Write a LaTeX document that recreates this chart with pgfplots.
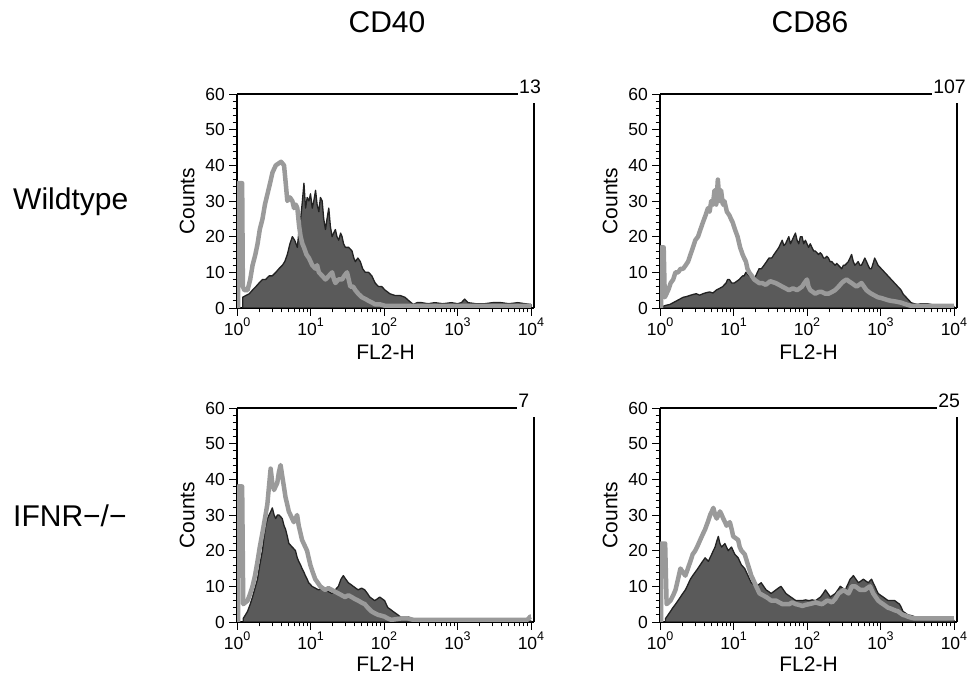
\documentclass[border=0pt]{standalone}
\usepackage{fontspec}
\setmainfont{Liberation Sans}
\usepackage{pgfplots}
\usepackage{pgfplotstable}
\pgfplotsset{compat=1.18}
\definecolor{darkfill}{HTML}{5A5A5A}
\definecolor{darkedge}{HTML}{222222}
\definecolor{ctrlgray}{HTML}{9A9A9A}
\newcommand{\tlfont}{\fontsize{17.5}{19}\selectfont}
\newcommand{\dec}[1]{{\tlfont 10\raisebox{0.5em}{\fontsize{12.5}{12.5}\selectfont #1}}}

% ---------- Wildtype CD40 ----------
\pgfplotstableread[row sep=\\]{lx y\\
0.015 0\\ 0.015 35\\ 0.07 35\\ 0.08 6\\ 0.099 5\\ 0.144 5\\ 0.18 8\\ 0.212 12\\ 0.25 15\\ 0.280 18\\ 0.31 22\\ 0.347 25\\ 0.38 29\\ 0.415 32\\ 0.45 35\\ 0.483 38\\ 0.528 40\\ 0.60 41\\ 0.640 40\\ 0.663 35\\ 0.685 30\\ 0.72 31\\ 0.753 30\\ 0.776 28\\ 0.80 29\\ 0.821 28\\ 0.845 23\\ 0.866 20\\ 0.89 18\\ 0.911 17\\ 0.945 15\\ 0.979 14\\ 1.024 12\\ 1.069 11\\ 1.09 12\\ 1.114 10\\ 1.16 9\\ 1.204 8\\ 1.25 9\\ 1.294 10\\ 1.32 8\\ 1.339 7\\ 1.38 8\\ 1.430 8\\ 1.46 9\\ 1.497 10\\ 1.52 8\\ 1.542 6\\ 1.58 6\\ 1.610 5\\ 1.65 4\\ 1.700 3\\ 1.75 2.5\\ 1.790 2\\ 1.84 1.5\\ 1.880 1\\ 1.95 1\\ 2.016 0.6\\ 2.5 0.6\\ 3.0 0.6\\ 3.5 0.6\\ 4.0 0.6\\
}\wtCDfortyC
\pgfplotstableread[row sep=\\]{lx y\\
0.077 3\\ 0.12 3.5\\ 0.167 4\\ 0.21 5\\ 0.257 6\\ 0.30 7\\ 0.347 8\\ 0.39 8\\ 0.437 9\\ 0.48 9\\ 0.528 10\\ 0.57 11\\ 0.618 12\\ 0.65 13\\ 0.685 15\\ 0.72 18\\ 0.753 20\\ 0.785 19\\ 0.821 17\\ 0.845 22\\ 0.866 25\\ 0.89 30\\ 0.911 35\\ 0.933 28\\ 0.955 31\\ 0.979 30\\ 1.00 32\\ 1.024 28\\ 1.045 30\\ 1.069 33\\ 1.09 29\\ 1.114 27\\ 1.135 31\\ 1.159 30\\ 1.18 25\\ 1.204 22\\ 1.225 25\\ 1.249 28\\ 1.27 23\\ 1.294 20\\ 1.315 21\\ 1.339 22\\ 1.36 20\\ 1.384 19\\ 1.41 21\\ 1.430 20\\ 1.45 18\\ 1.475 17\\ 1.52 17\\ 1.565 16\\ 1.59 14\\ 1.610 13\\ 1.645 14\\ 1.678 13\\ 1.71 11\\ 1.745 10\\ 1.79 10\\ 1.835 9\\ 1.88 7\\ 1.926 6\\ 1.97 6\\ 2.016 5\\ 2.08 4\\ 2.151 3.5\\ 2.22 3.5\\ 2.286 3\\ 2.34 2\\ 2.399 1\\ 2.45 1.5\\ 2.512 1.5\\ 2.60 1.2\\ 2.692 1.5\\ 2.80 1.2\\ 2.918 1.5\\ 3.00 1.2\\ 3.053 1.5\\ 3.098 2.5\\ 3.143 1.5\\ 3.25 1.2\\ 3.369 1.2\\ 3.48 1.5\\ 3.594 1.5\\ 3.70 1.2\\ 3.820 1.5\\ 3.92 1.2\\ 4.0 1\\
}\wtCDfortyS

% ---------- Wildtype CD86 ----------
\pgfplotstableread[row sep=\\]{lx y\\
0.015 0\\ 0.015 17\\ 0.05 17\\ 0.065 3\\ 0.112 5\\ 0.145 7\\ 0.180 8\\ 0.21 10\\ 0.247 10\\ 0.28 11\\ 0.315 11\\ 0.35 12\\ 0.382 13\\ 0.415 15\\ 0.449 17\\ 0.48 19\\ 0.517 20\\ 0.55 22\\ 0.584 24\\ 0.62 26\\ 0.652 28\\ 0.675 27\\ 0.697 30\\ 0.72 29\\ 0.742 33\\ 0.765 29\\ 0.787 36\\ 0.81 30\\ 0.831 33\\ 0.855 29\\ 0.876 30\\ 0.91 27\\ 0.944 26\\ 0.965 25\\ 0.989 24\\ 1.02 22\\ 1.056 20\\ 1.09 17\\ 1.124 15\\ 1.145 14\\ 1.169 13\\ 1.19 11\\ 1.213 10\\ 1.25 9\\ 1.281 8\\ 1.315 7.5\\ 1.348 7\\ 1.39 7\\ 1.438 6.5\\ 1.50 7.5\\ 1.573 7\\ 1.62 6.5\\ 1.663 6\\ 1.71 5.5\\ 1.753 5\\ 1.81 5.5\\ 1.865 5\\ 1.90 5.5\\ 1.933 6\\ 1.965 7\\ 2.000 8\\ 2.02 6\\ 2.045 5\\ 2.08 4.5\\ 2.112 4\\ 2.16 4.5\\ 2.202 4.5\\ 2.25 4\\ 2.292 4\\ 2.34 4.5\\ 2.382 5\\ 2.43 6\\ 2.472 7\\ 2.50 7.5\\ 2.539 8\\ 2.57 7.5\\ 2.607 7\\ 2.64 6.5\\ 2.674 6\\ 2.71 6.5\\ 2.742 7\\ 2.775 6\\ 2.809 5\\ 2.84 4.5\\ 2.876 4\\ 2.92 3.5\\ 2.966 3\\ 3.01 2.8\\ 3.056 2.5\\ 3.10 2.2\\ 3.146 2\\ 3.21 1.8\\ 3.281 1.5\\ 3.35 1\\ 3.416 0.6\\ 3.7 0.6\\ 4.0 0.6\\
}\wtCDeightysixC
\pgfplotstableread[row sep=\\]{lx y\\
0.045 0.5\\ 0.09 0.8\\ 0.135 1\\ 0.18 1.5\\ 0.225 2\\ 0.27 2.5\\ 0.315 3\\ 0.36 3.2\\ 0.404 3.5\\ 0.45 3.8\\ 0.494 4\\ 0.54 3.6\\ 0.584 4\\ 0.63 4.3\\ 0.674 4.5\\ 0.72 4.2\\ 0.764 5\\ 0.81 5.5\\ 0.854 6\\ 0.875 6.5\\ 0.899 7\\ 0.92 8\\ 0.944 8\\ 0.975 7\\ 1.011 7\\ 1.045 7.5\\ 1.079 8\\ 1.10 8.5\\ 1.124 9\\ 1.145 9\\ 1.169 10\\ 1.19 9.5\\ 1.213 9\\ 1.235 9.5\\ 1.258 9\\ 1.28 8.5\\ 1.303 9\\ 1.325 10\\ 1.348 11\\ 1.38 11\\ 1.416 12\\ 1.45 13\\ 1.483 14\\ 1.52 14\\ 1.551 15\\ 1.585 16\\ 1.618 17\\ 1.64 18\\ 1.663 19\\ 1.685 17.5\\ 1.708 18\\ 1.73 19\\ 1.753 20\\ 1.775 18\\ 1.798 19\\ 1.82 20\\ 1.843 21\\ 1.865 19\\ 1.888 18\\ 1.91 20\\ 1.933 20\\ 1.955 18\\ 1.978 19\\ 2.00 18\\ 2.022 17\\ 2.045 18\\ 2.067 17\\ 2.09 16\\ 2.112 16\\ 2.135 15.5\\ 2.157 15\\ 2.18 15.5\\ 2.202 15\\ 2.225 14\\ 2.247 14\\ 2.27 14.5\\ 2.292 14\\ 2.315 13\\ 2.337 13\\ 2.36 12.5\\ 2.382 12\\ 2.405 12.5\\ 2.427 12\\ 2.45 11.5\\ 2.472 11\\ 2.495 12\\ 2.517 12\\ 2.54 12.5\\ 2.562 13\\ 2.585 14\\ 2.607 15\\ 2.63 13\\ 2.652 12\\ 2.675 12.5\\ 2.697 13\\ 2.72 12\\ 2.742 12\\ 2.765 13\\ 2.787 14\\ 2.81 13\\ 2.831 12\\ 2.855 11\\ 2.876 11\\ 2.90 12.5\\ 2.921 14\\ 2.945 13\\ 2.966 12\\ 2.99 11.5\\ 3.011 11\\ 3.035 10.5\\ 3.056 10\\ 3.08 9.5\\ 3.101 9\\ 3.125 8.5\\ 3.146 8\\ 3.17 7.5\\ 3.191 7\\ 3.215 6.5\\ 3.236 6\\ 3.26 5.5\\ 3.281 5\\ 3.305 4\\ 3.326 3.5\\ 3.35 3\\ 3.371 2.5\\ 3.395 2\\ 3.416 1.5\\ 3.46 1.2\\ 3.506 1\\ 3.55 1.2\\ 3.596 1.2\\ 3.64 1.2\\ 3.685 1\\ 3.73 0.8\\ 3.775 0.5\\ 3.9 0.5\\ 4.0 0.5\\
}\wtCDeightysixS

% ---------- IFNR CD40 ----------
\pgfplotstableread[row sep=\\]{lx y\\
0.015 0\\ 0.015 38\\ 0.07 38\\ 0.085 5\\ 0.144 6\\ 0.18 8\\ 0.211 10\\ 0.245 13\\ 0.279 17\\ 0.31 21\\ 0.346 25\\ 0.38 29\\ 0.413 33\\ 0.435 38\\ 0.458 43\\ 0.48 39\\ 0.503 37\\ 0.525 38\\ 0.548 39\\ 0.57 42\\ 0.593 44\\ 0.615 41\\ 0.638 38\\ 0.66 35\\ 0.683 33\\ 0.705 31\\ 0.728 30\\ 0.75 29\\ 0.773 28\\ 0.795 29\\ 0.818 30\\ 0.84 27\\ 0.863 25\\ 0.885 23\\ 0.908 22\\ 0.93 21\\ 0.953 20\\ 0.975 18\\ 0.998 16\\ 1.03 14\\ 1.065 12\\ 1.10 11\\ 1.133 10\\ 1.165 9.5\\ 1.200 9\\ 1.245 9.5\\ 1.290 9\\ 1.335 8.5\\ 1.380 8\\ 1.425 7.5\\ 1.470 7\\ 1.515 7.5\\ 1.560 7\\ 1.60 6.5\\ 1.649 6\\ 1.69 5.5\\ 1.739 5\\ 1.78 4\\ 1.829 3\\ 1.87 2.5\\ 1.919 2\\ 1.96 1.8\\ 2.009 1.5\\ 2.05 1\\ 2.099 0.6\\ 2.17 0.8\\ 2.234 1\\ 2.324 1\\ 2.40 0.6\\ 2.683 0.6\\ 3.0 0.6\\ 3.5 0.6\\ 3.95 0.6\\ 3.99 1.5\\ 4.0 1.5\\
}\koCDfortyC
\pgfplotstableread[row sep=\\]{lx y\\
0.085 1\\ 0.115 2\\ 0.144 3\\ 0.18 5\\ 0.211 7\\ 0.245 9.5\\ 0.279 12\\ 0.31 16\\ 0.346 20\\ 0.37 24\\ 0.391 27\\ 0.415 29\\ 0.436 30\\ 0.46 31\\ 0.481 32\\ 0.505 30\\ 0.526 29\\ 0.55 30\\ 0.571 30\\ 0.595 29.5\\ 0.616 29\\ 0.64 27\\ 0.661 26\\ 0.685 24\\ 0.706 22\\ 0.73 21.5\\ 0.751 21\\ 0.775 20.5\\ 0.796 20\\ 0.82 18\\ 0.840 17\\ 0.865 16\\ 0.885 15\\ 0.91 14\\ 0.930 13\\ 0.955 12\\ 0.975 11\\ 1.00 10.5\\ 1.020 10\\ 1.065 9.5\\ 1.110 9\\ 1.155 9.5\\ 1.200 9\\ 1.245 8.5\\ 1.290 8\\ 1.335 9\\ 1.380 10\\ 1.415 12\\ 1.447 13\\ 1.48 12\\ 1.515 11\\ 1.55 10.5\\ 1.582 10\\ 1.615 9.5\\ 1.649 9\\ 1.695 9.5\\ 1.739 9\\ 1.775 8\\ 1.807 7\\ 1.84 6.5\\ 1.874 6\\ 1.91 6.5\\ 1.942 7\\ 1.975 6.5\\ 2.009 6\\ 2.03 5\\ 2.054 4\\ 2.09 3.5\\ 2.121 3\\ 2.155 2.5\\ 2.189 2\\ 2.22 1.5\\ 2.256 1\\ 2.29 1.2\\ 2.324 1.5\\ 2.37 1\\ 2.413 0.5\\ 2.8 0.5\\ 3.2 0.5\\ 3.6 0.5\\ 4.0 0.3\\
}\koCDfortyS

% ---------- IFNR CD86 ----------
\pgfplotstableread[row sep=\\]{lx y\\
0.015 0\\ 0.015 22\\ 0.07 22\\ 0.09 5\\ 0.143 6\\ 0.18 7.5\\ 0.211 9\\ 0.245 12\\ 0.278 15\\ 0.31 14\\ 0.345 13\\ 0.38 15\\ 0.413 17\\ 0.445 19\\ 0.480 20\\ 0.515 21.5\\ 0.547 23\\ 0.58 24.5\\ 0.614 26\\ 0.65 28\\ 0.682 30\\ 0.705 31\\ 0.726 32\\ 0.75 30\\ 0.771 29\\ 0.795 30\\ 0.816 31\\ 0.84 30\\ 0.861 29\\ 0.885 28\\ 0.906 27\\ 0.93 27.5\\ 0.951 28\\ 0.975 26\\ 0.996 24\\ 1.03 23.5\\ 1.063 23\\ 1.085 21\\ 1.108 20\\ 1.13 19.5\\ 1.152 19\\ 1.175 17.5\\ 1.197 16\\ 1.22 14.5\\ 1.242 13\\ 1.265 12\\ 1.287 11\\ 1.32 9.5\\ 1.354 8\\ 1.40 7.5\\ 1.444 7\\ 1.48 6.5\\ 1.511 6\\ 1.545 6\\ 1.578 6\\ 1.62 5.5\\ 1.668 5\\ 1.71 5\\ 1.758 5\\ 1.80 5.5\\ 1.848 5\\ 1.89 4.8\\ 1.937 4.5\\ 1.98 4.8\\ 2.027 5\\ 2.07 5.2\\ 2.117 5.5\\ 2.16 5.2\\ 2.206 5\\ 2.24 5.5\\ 2.274 6\\ 2.31 5.8\\ 2.341 5.5\\ 2.385 6.5\\ 2.430 8\\ 2.465 8.5\\ 2.498 9\\ 2.53 8.5\\ 2.565 8\\ 2.59 9\\ 2.610 10\\ 2.632 10\\ 2.655 10\\ 2.69 9.5\\ 2.722 9\\ 2.755 9\\ 2.789 9\\ 2.82 9.5\\ 2.857 10\\ 2.88 9\\ 2.901 8\\ 2.935 7\\ 2.969 6\\ 3.00 5.5\\ 3.036 5\\ 3.07 4.5\\ 3.103 4\\ 3.135 3.8\\ 3.170 3.5\\ 3.205 3.2\\ 3.238 3\\ 3.27 2.5\\ 3.305 2\\ 3.34 1.8\\ 3.372 1.5\\ 3.42 1.2\\ 3.462 1\\ 3.7 1\\ 4.0 1\\
}\koCDeightysixC
\pgfplotstableread[row sep=\\]{lx y\\
0.076 1\\ 0.11 2\\ 0.143 3\\ 0.175 4\\ 0.211 5\\ 0.245 6\\ 0.278 7\\ 0.31 8\\ 0.345 9\\ 0.38 10.5\\ 0.413 12\\ 0.445 13\\ 0.480 14\\ 0.515 15\\ 0.547 16\\ 0.58 17\\ 0.614 18\\ 0.635 17.5\\ 0.659 17\\ 0.68 18\\ 0.704 19\\ 0.725 20\\ 0.749 21\\ 0.77 22.5\\ 0.794 24\\ 0.815 22\\ 0.839 21\\ 0.86 21.5\\ 0.883 22\\ 0.905 21\\ 0.928 20\\ 0.95 20.5\\ 0.973 21\\ 0.995 20\\ 1.018 19\\ 1.04 18.5\\ 1.063 18\\ 1.085 17\\ 1.108 16\\ 1.13 15.5\\ 1.152 15\\ 1.175 14\\ 1.197 13\\ 1.22 12\\ 1.242 11\\ 1.275 10.5\\ 1.309 10\\ 1.345 10.5\\ 1.377 11\\ 1.41 10\\ 1.444 9\\ 1.48 8.5\\ 1.511 8\\ 1.545 8.5\\ 1.578 9\\ 1.61 9.5\\ 1.646 10\\ 1.68 9\\ 1.713 8\\ 1.745 7.5\\ 1.780 7\\ 1.815 6.5\\ 1.848 6\\ 1.89 6\\ 1.937 6\\ 1.98 6.2\\ 2.027 6\\ 2.07 6.2\\ 2.117 6\\ 2.15 6.5\\ 2.184 7\\ 2.22 8\\ 2.251 9\\ 2.285 8\\ 2.318 7\\ 2.35 7.5\\ 2.386 8\\ 2.42 9\\ 2.453 10\\ 2.485 9.5\\ 2.520 9\\ 2.555 10.5\\ 2.587 12\\ 2.61 12.5\\ 2.632 13\\ 2.665 12\\ 2.700 11\\ 2.735 11.5\\ 2.767 12\\ 2.80 11.5\\ 2.834 11\\ 2.855 11.5\\ 2.879 12\\ 2.90 11\\ 2.924 10\\ 2.945 9\\ 2.969 8\\ 3.00 7.5\\ 3.036 7\\ 3.07 6.5\\ 3.103 6\\ 3.15 6\\ 3.193 6\\ 3.225 5.5\\ 3.260 5\\ 3.285 4\\ 3.305 3\\ 3.34 2.5\\ 3.372 2\\ 3.42 1.8\\ 3.462 1.5\\ 3.51 1.2\\ 3.552 1\\ 3.64 1.2\\ 3.731 1.5\\ 3.78 1.2\\ 3.821 1\\ 3.9 0.7\\ 4.0 0.5\\
}\koCDeightysixS

\pgfplotsset{
  darkhist/.style={fill=darkfill, draw=darkedge, line width=1.3pt, line join=round},
  ctrlline/.style={draw=ctrlgray, line width=4.5pt, line join=round},
}
\newcommand{\framedeco}[2]{%
  \draw[line width=1.1pt] (rel axis cs:0,1) -- (rel axis cs:#1,1);
  \draw[line width=1.1pt] (rel axis cs:1,0) -- (rel axis cs:1,0.958);
  \node[anchor=base west, inner sep=0pt, xshift=1pt, font=\fontsize{19.5}{20}\selectfont] at (rel axis cs:#1,1) {#2};
}

\begin{document}
\begin{tikzpicture}
\path[use as bounding box] (0pt,0pt) rectangle (969pt,676pt);

\node[anchor=base, font=\fontsize{30}{32}\selectfont] at (387pt,643pt) {CD40};
\node[anchor=base, font=\fontsize{30}{32}\selectfont] at (810pt,643pt) {CD86};
\node[anchor=base west, inner sep=0pt, font=\fontsize{30}{32}\selectfont] at (13pt,466pt) {Wildtype};
\node[anchor=base west, inner sep=0pt, font=\fontsize{30}{32}\selectfont] at (13pt,149pt) {IFNR−/−};

\begin{axis}[
    scale only axis, width=297pt, height=214pt,
    xmode=log, xmin=1, xmax=11000, ymin=0, ymax=60,
    axis lines*=left, tick pos=left, tick align=outside,
    axis line style={line width=1.1pt, black},
    major tick length=8pt, minor tick length=4.5pt,
    every tick/.style={black, line width=0.8pt},
    ytick={0,10,...,60}, minor ytick={2,4,...,58},
    yticklabel={{\tlfont\pgfmathprintnumber[assume math mode=true]{\tick}}},
    xtick={1,10,100,1000,10000},
    xticklabels={\dec{0},\dec{1},\dec{2},\dec{3},\dec{4}},
    minor xtick={2,3,...,9,20,30,...,90,200,300,...,900,2000,3000,...,9000},
    xticklabel style={inner sep=2pt},
    yticklabel style={inner sep=4pt},
    xlabel={FL2-H}, ylabel={Counts},
    label style={font=\fontsize{21}{22}\selectfont},
    xlabel style={at={(axis description cs:0.5,0)}, anchor=base, inner sep=0pt, yshift=-52pt},
    ylabel style={at={(axis description cs:-0.168,0.5)}, anchor=center},
    clip mode=individual,
    at={(237pt,368pt)}, anchor=south west]
  \addplot[darkhist] table[x expr=10^\thisrow{lx}, y=y] {\wtCDfortyS} \closedcycle;
  \addplot[ctrlline] table[x expr=10^\thisrow{lx}, y=y] {\wtCDfortyC};
  \framedeco{0.946}{13}
\end{axis}

\begin{axis}[
    scale only axis, width=297pt, height=214pt,
    xmode=log, xmin=1, xmax=11000, ymin=0, ymax=60,
    axis lines*=left, tick pos=left, tick align=outside,
    axis line style={line width=1.1pt, black},
    major tick length=8pt, minor tick length=4.5pt,
    every tick/.style={black, line width=0.8pt},
    ytick={0,10,...,60}, minor ytick={2,4,...,58},
    yticklabel={{\tlfont\pgfmathprintnumber[assume math mode=true]{\tick}}},
    xtick={1,10,100,1000,10000},
    xticklabels={\dec{0},\dec{1},\dec{2},\dec{3},\dec{4}},
    minor xtick={2,3,...,9,20,30,...,90,200,300,...,900,2000,3000,...,9000},
    xticklabel style={inner sep=2pt},
    yticklabel style={inner sep=4pt},
    xlabel={FL2-H}, ylabel={Counts},
    label style={font=\fontsize{21}{22}\selectfont},
    xlabel style={at={(axis description cs:0.5,0)}, anchor=base, inner sep=0pt, yshift=-52pt},
    ylabel style={at={(axis description cs:-0.168,0.5)}, anchor=center},
    clip mode=individual,
    at={(660pt,368pt)}, anchor=south west]
  \addplot[darkhist] table[x expr=10^\thisrow{lx}, y=y] {\wtCDeightysixS} \closedcycle;
  \addplot[ctrlline] table[x expr=10^\thisrow{lx}, y=y] {\wtCDeightysixC};
  \framedeco{0.916}{107}
\end{axis}

\begin{axis}[
    scale only axis, width=297pt, height=214pt,
    xmode=log, xmin=1, xmax=11000, ymin=0, ymax=60,
    axis lines*=left, tick pos=left, tick align=outside,
    axis line style={line width=1.1pt, black},
    major tick length=8pt, minor tick length=4.5pt,
    every tick/.style={black, line width=0.8pt},
    ytick={0,10,...,60}, minor ytick={2,4,...,58},
    yticklabel={{\tlfont\pgfmathprintnumber[assume math mode=true]{\tick}}},
    xtick={1,10,100,1000,10000},
    xticklabels={\dec{0},\dec{1},\dec{2},\dec{3},\dec{4}},
    minor xtick={2,3,...,9,20,30,...,90,200,300,...,900,2000,3000,...,9000},
    xticklabel style={inner sep=2pt},
    yticklabel style={inner sep=4pt},
    xlabel={FL2-H}, ylabel={Counts},
    label style={font=\fontsize{21}{22}\selectfont},
    xlabel style={at={(axis description cs:0.5,0)}, anchor=base, inner sep=0pt, yshift=-50pt},
    ylabel style={at={(axis description cs:-0.168,0.5)}, anchor=center},
    clip mode=individual,
    at={(237pt,54pt)}, anchor=south west]
  \addplot[darkhist] table[x expr=10^\thisrow{lx}, y=y] {\koCDfortyS} \closedcycle;
  \addplot[ctrlline] table[x expr=10^\thisrow{lx}, y=y] {\koCDfortyC};
  \framedeco{0.943}{7}
\end{axis}

\begin{axis}[
    scale only axis, width=297pt, height=214pt,
    xmode=log, xmin=1, xmax=11000, ymin=0, ymax=60,
    axis lines*=left, tick pos=left, tick align=outside,
    axis line style={line width=1.1pt, black},
    major tick length=8pt, minor tick length=4.5pt,
    every tick/.style={black, line width=0.8pt},
    ytick={0,10,...,60}, minor ytick={2,4,...,58},
    yticklabel={{\tlfont\pgfmathprintnumber[assume math mode=true]{\tick}}},
    xtick={1,10,100,1000,10000},
    xticklabels={\dec{0},\dec{1},\dec{2},\dec{3},\dec{4}},
    minor xtick={2,3,...,9,20,30,...,90,200,300,...,900,2000,3000,...,9000},
    xticklabel style={inner sep=2pt},
    yticklabel style={inner sep=4pt},
    xlabel={FL2-H}, ylabel={Counts},
    label style={font=\fontsize{21}{22}\selectfont},
    xlabel style={at={(axis description cs:0.5,0)}, anchor=base, inner sep=0pt, yshift=-50pt},
    ylabel style={at={(axis description cs:-0.168,0.5)}, anchor=center},
    clip mode=individual,
    at={(660pt,54pt)}, anchor=south west]
  \addplot[darkhist] table[x expr=10^\thisrow{lx}, y=y] {\koCDeightysixS} \closedcycle;
  \addplot[ctrlline] table[x expr=10^\thisrow{lx}, y=y] {\koCDeightysixC};
  \framedeco{0.933}{25}
\end{axis}
\end{tikzpicture}
\end{document}
